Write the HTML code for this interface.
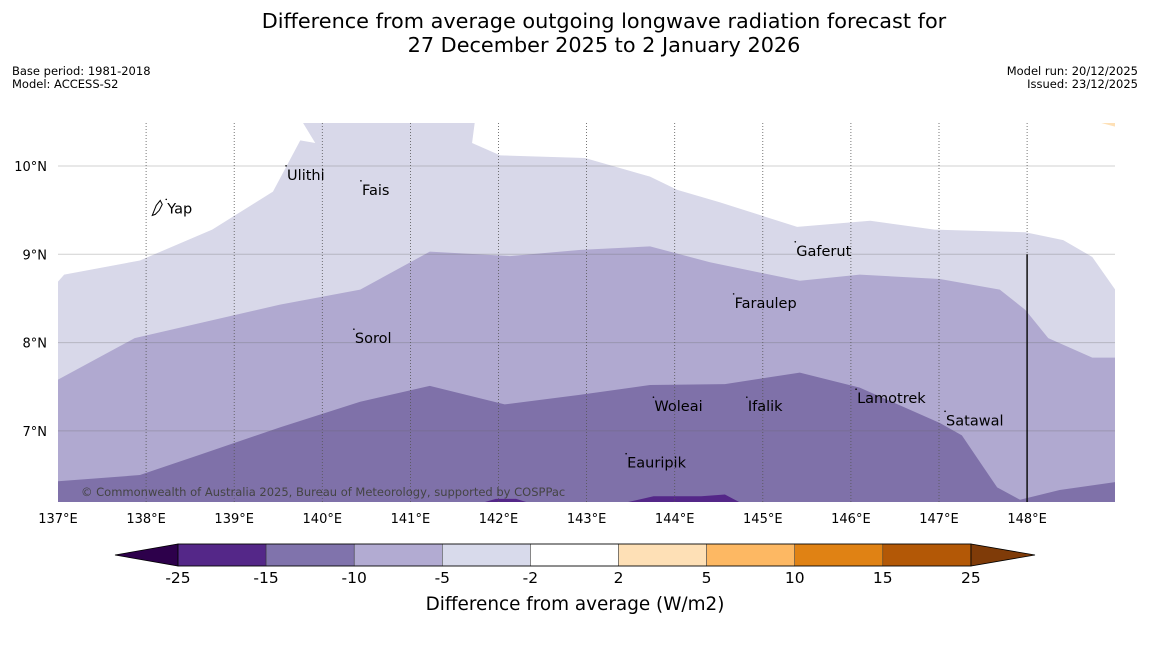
<!DOCTYPE html>
<html><head><meta charset="utf-8"><style>
body{margin:0;background:#fff;width:1150px;height:644px;overflow:hidden;font-family:"Liberation Sans","DejaVu Sans",sans-serif}
</style></head><body>
<svg id="s" width="1150" height="644" xmlns="http://www.w3.org/2000/svg" font-family="DejaVu Sans, Liberation Sans, sans-serif">
<text x="604" y="28" font-size="20.8" text-anchor="middle">Difference from average outgoing longwave radiation forecast for</text>
<text x="604" y="52" font-size="20.8" text-anchor="middle">27 December 2025 to 2 January 2026</text>
<text x="12" y="75" font-size="11.5">Base period: 1981-2018</text>
<text x="12" y="88" font-size="11.5">Model: ACCESS-S2</text>
<text x="1138" y="75" font-size="11.5" text-anchor="end">Model run: 20/12/2025</text>
<text x="1138" y="88" font-size="11.5" text-anchor="end">Issued: 23/12/2025</text>
<defs><clipPath id="mc"><rect x="58" y="123" width="1057" height="379"/></clipPath></defs>
<g id="map" clip-path="url(#mc)"></g>
<g id="ax"></g>
<g id="cb"></g>
<text x="575" y="610" font-size="18.4" text-anchor="middle">Difference from average (W/m2)</text>
</svg>
<script>
const lonTicks=[137,138,139,140,141,142,143,144,145,146,147,148];
const latTicks=[7,8,9,10];
const lightLon=[137,137,137.07,137.93,138.75,139.44,139.75,139.92,139.78,141.73,141.70,142.02,142.98,143.72,144.03,144.51,145.39,146.22,146.95,147.98,148.41,148.74,149,149];
const lightLat=[6.19,8.69,8.77,8.93,9.28,9.71,10.29,10.26,10.49,10.49,10.26,10.12,10.09,9.88,9.73,9.59,9.31,9.38,9.28,9.25,9.16,8.97,8.60,6.19];
const midLon=[137,137,137.87,139.52,140.43,141.22,142.13,142.93,143.72,144.40,145.42,146.10,147.01,147.69,147.98,148.24,148.74,149,149];
const midLat=[6.19,7.58,8.05,8.43,8.60,9.03,8.98,9.05,9.09,8.91,8.70,8.77,8.72,8.60,8.37,8.05,7.83,7.83,6.19];
const darkLon=[137,137,137.93,138.61,139.52,140.43,141.22,142.07,142.93,143.72,144.57,145.42,146.10,147.01,147.26,147.47,147.66,147.92,148.37,149,149];
const darkLat=[6.19,6.43,6.50,6.73,7.04,7.33,7.51,7.30,7.41,7.52,7.53,7.66,7.49,7.09,6.95,6.64,6.36,6.22,6.33,6.42,6.19];
const deep1Lon=[141.83,141.97,142.2,142.33],deep1Lat=[6.19,6.23,6.23,6.19];
const deep2Lon=[143.45,143.76,144.3,144.57,144.74],deep2Lat=[6.19,6.26,6.26,6.28,6.19];
const orangeLon=[148.83,149.1,149.1],orangeLat=[10.49,10.49,10.42];
const places=["Yap","Ulithi","Fais","Gaferut","Faraulep","Sorol","Lamotrek","Woleai","Ifalik","Satawal","Eauripik"];
const placeLon=[138.24,139.6,140.45,145.38,144.68,140.37,146.07,143.77,144.83,147.08,143.46];
const placeLat=[9.52,9.9,9.73,9.04,8.45,8.05,7.37,7.28,7.28,7.12,6.64];
const cbBounds=["-25","-15","-10","-5","-2","2","5","10","15","25"];
const cbColors=["#542788","#8073ac","#b2abd2","#d8daeb","#ffffff","#fee0b6","#fdb863","#e08214","#b35806"];
const X=l=>58+(l-137)*88.1, Y=a=>166+(10-a)*88.3;
const NS="http://www.w3.org/2000/svg";
function mk(t,p,at){const e=document.createElementNS(NS,t);for(const k in at)e.setAttribute(k,at[k]);p.appendChild(e);return e;}
const map=document.getElementById('map'),ax=document.getElementById('ax'),cb=document.getElementById('cb');
function poly(lo,la,fill,name){const e=mk('polygon',map,{points:lo.map((l,i)=>X(l)+','+Y(la[i])).join(' '),fill:fill});

}
poly(lightLon,lightLat,'#d8d8e9','contour-minus-2');
poly(midLon,midLat,'#b0a9d0','contour-minus-5');
poly(darkLon,darkLat,'#7f71a9','contour-minus-10');
poly(deep1Lon,deep1Lat,'#542788','contour-minus-15-a');
poly(deep2Lon,deep2Lat,'#542788','contour-minus-15-b');
poly(orangeLon,orangeLat,'#fee0b6','contour-plus-2');
latTicks.forEach(a=>{const l=mk('line',map,{x1:58,x2:1115,y1:Y(a),y2:Y(a),stroke:'#666','stroke-opacity':0.3,'stroke-width':1});


const t=mk('text',ax,{x:47,y:Y(a)+5,'font-size':13,'text-anchor':'end'});t.textContent=a+'°N';

});
lonTicks.forEach(l=>{if(l>137){const g=mk('line',map,{x1:X(l),x2:X(l),y1:123,y2:502,stroke:'#555','stroke-width':0.8,'stroke-dasharray':'1,2'});

}
const t=mk('text',ax,{x:X(l),y:523,'font-size':13,'text-anchor':'middle'});t.textContent=l+'°E';

});
const bl=mk('line',map,{x1:X(148),x2:X(148),y1:Y(9),y2:502,stroke:'#111','stroke-width':1.5});


places.forEach((p,i)=>{const t=mk('text',map,{x:X(placeLon[i]),y:Y(placeLat[i])+5,'font-size':14.5});t.textContent=p;


const d=mk('circle',map,{cx:X(placeLon[i])-1,cy:Y(placeLat[i])-9,r:0.8,fill:'#000'});

});
const yx=X(placeLon[0]),yy=Y(placeLat[0]);
const ys=mk('path',map,{d:`M${yx-15},${yy+7} L${yx-11},${yy-3} L${yx-7},${yy-8} L${yx-5},${yy-4} L${yx-8},${yy+2} L${yx-12},${yy+6} Z`,fill:'none',stroke:'#000','stroke-width':1});


const cp=mk('text',map,{x:81,y:496,'font-size':11.5,fill:'#444'});cp.textContent='© Commonwealth of Australia 2025, Bureau of Meteorology, supported by COSPPac';


const cx0=178,cw=88.1,cy=544,ch=22;
const lt=mk('polygon',cb,{points:`115,${cy+ch/2} ${cx0},${cy} ${cx0},${cy+ch}`,fill:'#2d004b',stroke:'#000','stroke-width':0.8});


const xe=cx0+cw*cbColors.length;
const rt=mk('polygon',cb,{points:`1035,${cy+ch/2} ${xe},${cy} ${xe},${cy+ch}`,fill:'#7f3b08',stroke:'#000','stroke-width':0.8});


cbColors.forEach((c,i)=>{const r=mk('rect',cb,{x:cx0+i*cw,y:cy,width:cw,height:ch,fill:c,stroke:'#333','stroke-width':0.5});

});
mk('rect',cb,{x:cx0,y:cy,width:xe-cx0,height:ch,fill:'none',stroke:'#000','stroke-width':0.8});
cbBounds.forEach((b,i)=>{const t=mk('text',cb,{x:cx0+i*cw,y:583,'font-size':15.5,'text-anchor':'middle'});t.textContent=b;

});
</script>
</body></html>
